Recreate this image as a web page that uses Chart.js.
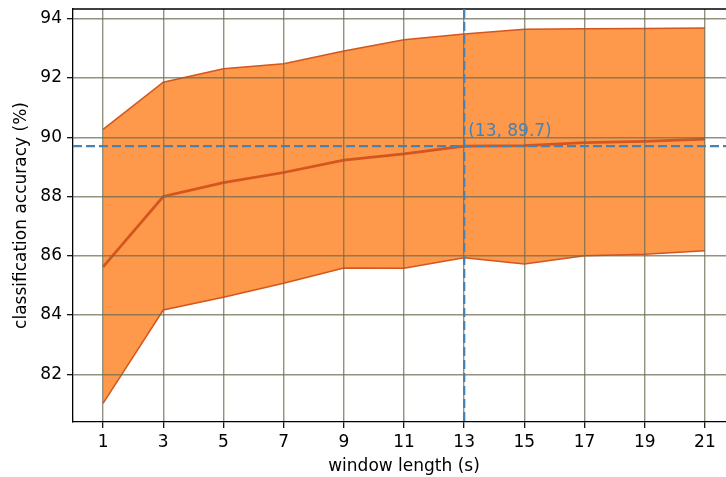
<!DOCTYPE html>
<html>
<head>
<meta charset="utf-8">
<script src="https://cdn.jsdelivr.net/npm/chart.js@4"></script>
<style>
  html, body { margin: 0; padding: 0; background: #fff; overflow: hidden; }
  #wrap { width: 736px; height: 477px; }
</style>
</head>
<body>
<div id="wrap"><canvas id="c" width="736" height="477"></canvas></div>
<script>
// ---- data ----
const windowLengths = [1, 3, 5, 7, 9, 11, 13, 15, 17, 19, 21];
const upperAcc = [90.27, 91.86, 92.31, 92.48, 92.91, 93.29, 93.49, 93.65, 93.66, 93.67, 93.69];
const meanAcc  = [85.63, 88.00, 88.47, 88.81, 89.23, 89.44, 89.70, 89.72, 89.82, 89.86, 89.94];
const lowerAcc = [81.02, 84.17, 84.60, 85.07, 85.59, 85.58, 85.93, 85.72, 86.00, 86.05, 86.17];
const xTicks = [1, 3, 5, 7, 9, 11, 13, 15, 17, 19, 21];
const yTicks = [82, 84, 86, 88, 90, 92, 94];
const refX = 13;
const refY = 89.7;
const refLabel = '(13, 89.7)';
const xTitle = 'window length (s)';
const yTitle = 'classification accuracy (%)';

const FONT = 'DejaVu Sans';
const lineColor = '#D4561E';
const fillColor = 'rgb(254,152,74)';
const refColor = 'rgb(70,130,180)';
const gridColor = 'rgba(110,110,84,0.75)';

const pts = arr => windowLengths.map((x, i) => ({x: x, y: arr[i]}));

const refPlugin = {
  id: 'refLines',
  afterDraw(chart) {
    const {ctx, chartArea: a, scales: {x, y}} = chart;
    ctx.save();
    // top spine
    ctx.strokeStyle = '#000';
    ctx.lineWidth = 1.3;
    ctx.beginPath();
    ctx.moveTo(a.left - 0.6, a.top);
    ctx.lineTo(a.right, a.top);
    ctx.stroke();
    // dashed reference lines
    ctx.strokeStyle = refColor;
    ctx.lineWidth = 2.3;
    ctx.setLineDash([9, 4]);
    const px = x.getPixelForValue(refX);
    const py = y.getPixelForValue(refY);
    ctx.beginPath();
    ctx.moveTo(a.left, py);
    ctx.lineTo(a.right, py);
    ctx.stroke();
    ctx.beginPath();
    ctx.moveTo(px, a.top);
    ctx.lineTo(px, a.bottom);
    ctx.stroke();
    ctx.setLineDash([]);
    // label
    ctx.fillStyle = refColor;
    ctx.font = '17px "' + FONT + '"';
    ctx.textAlign = 'left';
    ctx.textBaseline = 'alphabetic';
    ctx.fillText(refLabel, px + 4, py - 10);
    ctx.restore();
  }
};

new Chart(document.getElementById('c'), {
  type: 'line',
  data: {
    datasets: [
      { data: pts(upperAcc), borderColor: lineColor, borderWidth: 1.5, backgroundColor: fillColor,
        fill: '+2', pointRadius: 0, tension: 0 },
      { data: pts(meanAcc), borderColor: lineColor, borderWidth: 2.7, fill: false, pointRadius: 0, tension: 0 },
      { data: pts(lowerAcc), borderColor: lineColor, borderWidth: 1.5, fill: false, pointRadius: 0, tension: 0 }
    ]
  },
  options: {
    responsive: false,
    animation: false,
    layout: { padding: { top: 9, right: 1, left: 0, bottom: 0 } },
    plugins: {
      legend: { display: false },
      tooltip: { enabled: false },
      filler: { drawTime: 'beforeDatasetsDraw' }
    },
    scales: {
      x: {
        type: 'linear', min: 0, max: 22,
        afterBuildTicks: s => { s.ticks = xTicks.map(v => ({value: v})); },
        afterFit: s => { s.height = 55; s.paddingLeft = 0; s.paddingRight = 0; },
        grid: { color: gridColor, lineWidth: 1.4, z: 1, drawTicks: true, tickLength: 6, tickColor: '#000', tickWidth: 1.2 },
        border: { display: true, color: '#000', width: 1.3, z: 2 },
        ticks: { font: { family: FONT, size: 17 }, color: '#000', padding: 4, maxRotation: 0, autoSkip: false },
        title: { display: true, text: xTitle, font: { family: FONT, size: 17 }, color: '#000', padding: { top: 0, bottom: 0 } }
      },
      y: {
        type: 'linear', min: 80.39, max: 94.33,
        afterBuildTicks: s => { s.ticks = yTicks.map(v => ({value: v})); },
        afterFit: s => { s.width = 73; s.paddingTop = 0; s.paddingBottom = 0; },
        grid: { color: gridColor, lineWidth: 1.4, z: 1, drawTicks: true, tickLength: 6, tickColor: '#000', tickWidth: 1.2 },
        border: { display: true, color: '#000', width: 1.3, z: 2 },
        ticks: { font: { family: FONT, size: 17 }, color: '#000', padding: 5, autoSkip: false },
        title: { display: true, text: yTitle, font: { family: FONT, size: 17 }, color: '#000', padding: { top: 11, bottom: 0 } }
      }
    }
  },
  plugins: [refPlugin]
});
</script>
</body>
</html>
